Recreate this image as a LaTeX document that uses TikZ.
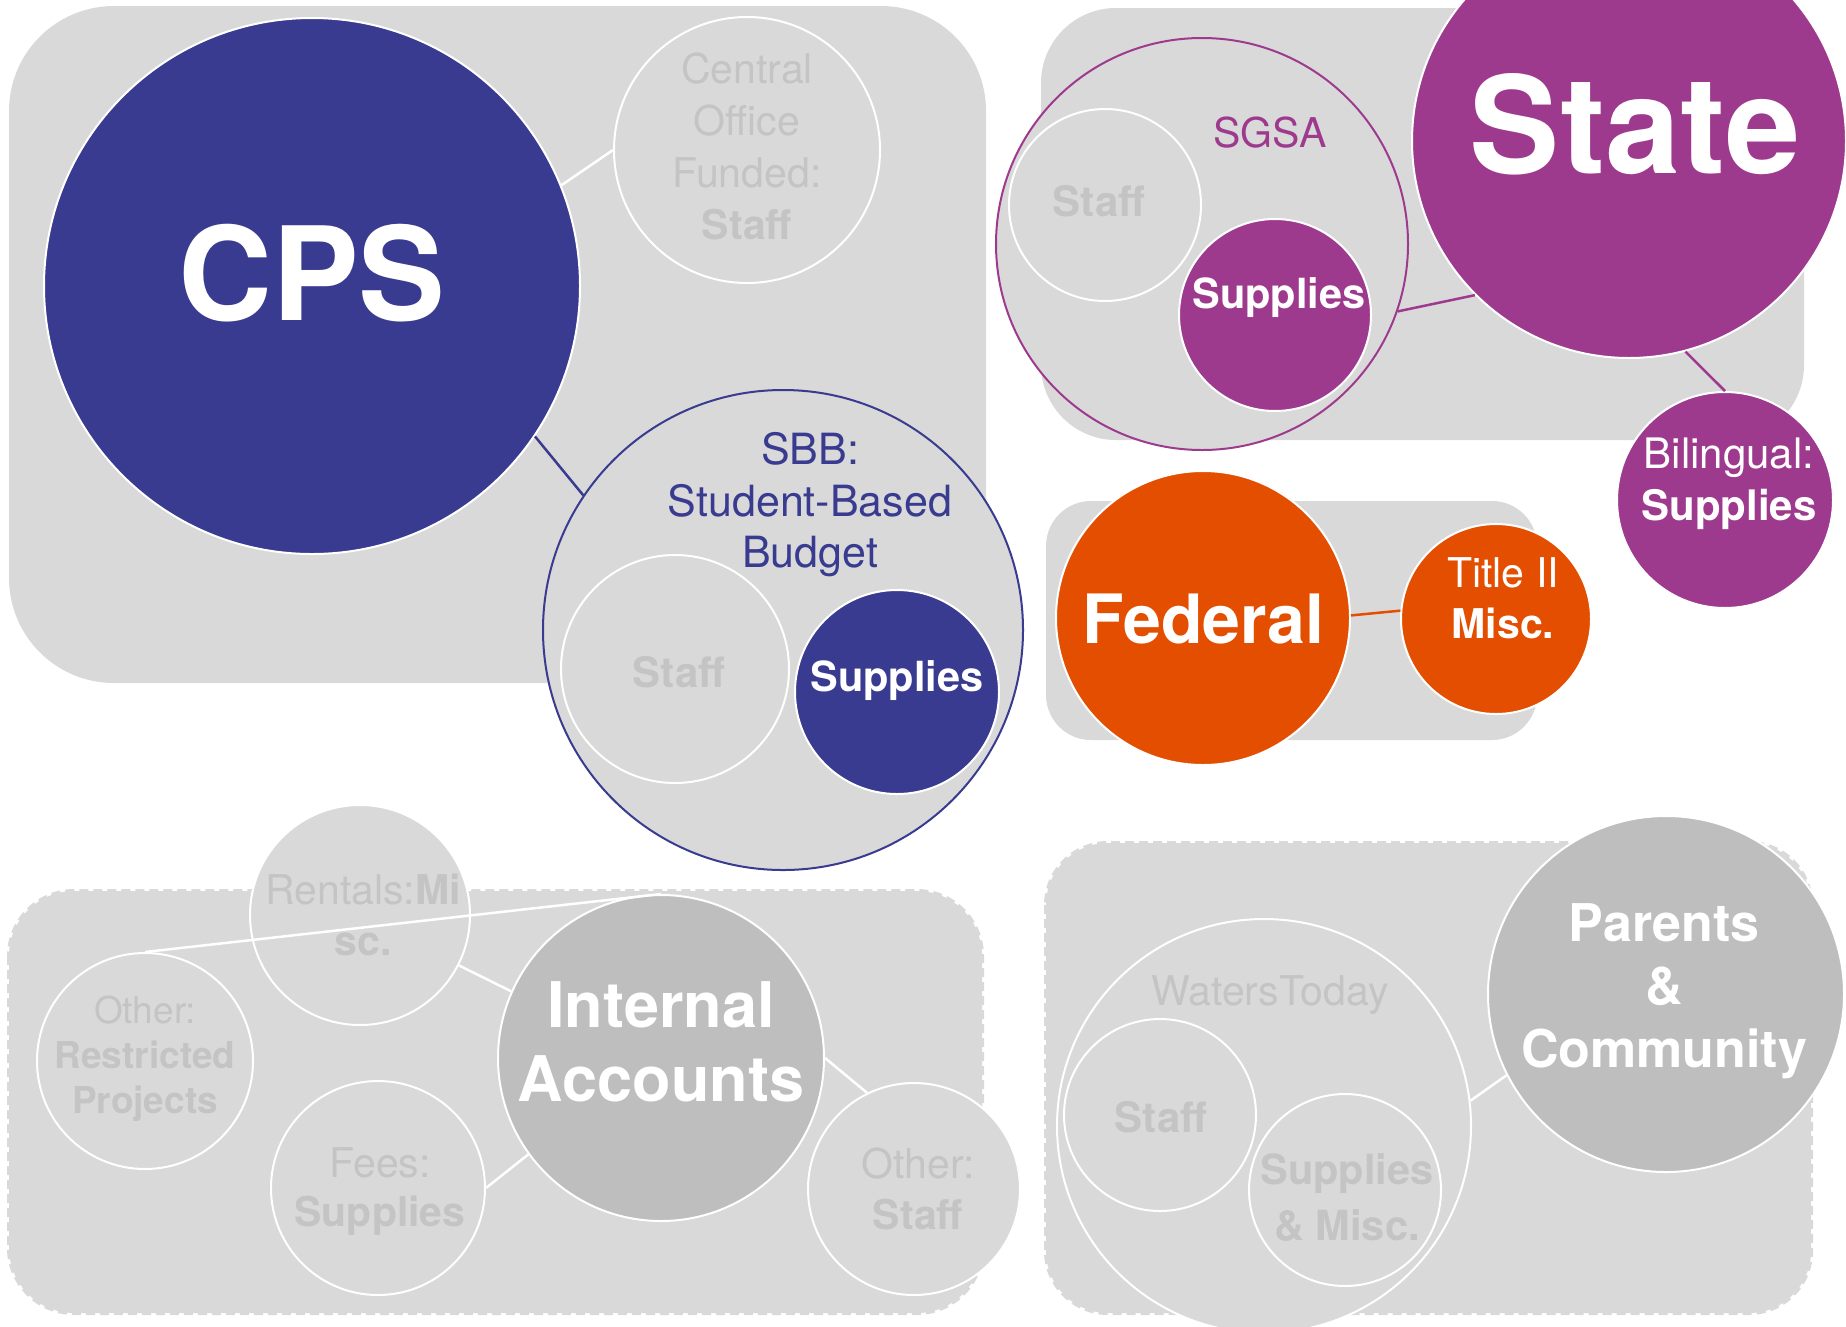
\documentclass[tikz,border=0pt]{standalone}
\usepackage{fontspec}
\setmainfont{TeX Gyre Heros}
\definecolor{cpsblue}{HTML}{383B8F}
\definecolor{statepurple}{HTML}{9E3A8E}
\definecolor{fedorange}{HTML}{E34E00}
\definecolor{boxgray}{HTML}{D9D9D9}
\definecolor{darkgray}{HTML}{BEBEBE}
\definecolor{textgray}{HTML}{C4C4C4}

\begin{document}
\begin{tikzpicture}[x=1pt, y=-1pt,
        blob/.style = {circle, draw=white, line width=2pt, inner sep=0pt,
            fill=boxgray, minimum size=#1},
        lbl/.style = {inner sep=0pt, align=center, text=textgray,
            font=\fontsize{41}{51}\selectfont},
        link/.style = {line width=2.5pt},
        panel/.style = {fill=boxgray},
        dashpanel/.style = {fill=boxgray, draw=boxgray, line width=4pt,
            dash pattern=on 9pt off 5pt}]
        \useasboundingbox (0,0) rectangle (1846,1326);
        % panels
        \path[panel, rounded corners=105pt] (9,6) rectangle (986,683);
        \path[panel, rounded corners=75pt] (1041,8) rectangle (1804,440);
        \path[panel, rounded corners=45pt] (1046,501) rectangle (1537,740);
        \path[dashpanel, rounded corners=65pt] (9,891) rectangle (982,1313);
        \path[dashpanel, rounded corners=62pt] (1046,843) rectangle (1811,1313);
        % CPS
        \node [blob=536pt, fill=cpsblue] (cps) at (312,286) {};
        \node [blob=266pt] (cof) at (747,150) {};
        \node [blob=480pt, draw=cpsblue] (sbb) at (783,630) {};
        \node [blob=228pt] (sbbstaff) at (675,669) {};
        \node [blob=204pt, fill=cpsblue] (sbbsup) at (897,692) {};
        % State
        \node [blob=412pt, draw=statepurple] (sgsa) at (1202,244) {};
        \node [blob=192pt] (sgsastaff) at (1105,205) {};
        \node [blob=192pt, fill=statepurple] (sgsasup) at (1275,315) {};
        \node [blob=434pt, fill=statepurple] (state) at (1629,141) {};
        \node [blob=216pt, fill=statepurple] (bil) at (1725,500) {};
        % Federal
        \node [blob=294pt, fill=fedorange] (fed) at (1203,618) {};
        \node [blob=190pt, fill=fedorange] (title) at (1496,619) {};
        % Internal Accounts
        \node [blob=326pt, fill=darkgray] (ia) at (661,1058) {};
        \node [blob=220pt] (rent) at (360,915) {};
        \node [blob=216pt] (restr) at (145,1061) {};
        \node [blob=214pt] (fees) at (378,1188) {};
        \node [blob=212pt] (ostaff) at (914,1189) {};
        % Parents & Community
        \node [blob=414pt] (wt) at (1264,1126) {};
        \node [blob=192pt] (wtstaff) at (1160,1115) {};
        \node [blob=192pt] (wtsup) at (1345,1190) {};
        \node [blob=356pt, fill=darkgray] (par) at (1666,994) {};
        % links
        \draw [link, white] (cps.22) -- (cof.180);
        \draw [link, cpsblue] (cps.-34) -- (sbb.146);
        \draw [link, statepurple] (sgsa.-19) -- (state.225);
        \draw [link, statepurple] (state.-75) -- (bil.90);
        \draw [link, fedorange] (fed.1) -- (title.175);
        \draw [link, white] (restr.north) -- (ia.north);
        \draw [link, white] (rent.-27) -- (ia.156);
        \draw [link, white] (fees.0) -- (ia.216);
        \draw [link, white] (ia.0) -- (ostaff.116);
        \draw [link, white] (wt.7) -- (par.207);
        % texts
        \node [lbl, anchor=base, text=white, font=\fontsize{130}{150}\bfseries] (cpstxt) at (312,320) {CPS};
        \node [lbl, font=\fontsize{41}{52}\selectfont] (coftxt) at (747,146) {Central\\Office\\Funded:\\\textbf{Staff}};
        \node [lbl, text=cpsblue, font=\fontsize{43}{51.5}\selectfont] (sbbtxt) at (810,505) {SBB:\\Student-Based\\Budget};
        \node [lbl, anchor=base, font=\fontsize{42}{50}\bfseries] (sbbstafftxt) at (679,687) {Staff};
        \node [lbl, anchor=base, text=white, font=\fontsize{41.5}{50}\bfseries] (sbbsuptxt) at (897,691) {Supplies};
        \node [lbl, anchor=base, text=statepurple] (sgsatxt) at (1270,147) {SGSA};
        \node [lbl, anchor=base, font=\fontsize{42}{50}\bfseries] (sgsastafftxt) at (1099,216) {Staff};
        \node [lbl, anchor=base, text=white, font=\fontsize{41.5}{50}\bfseries] (sgsasuptxt) at (1279,308) {Supplies};
        \node [lbl, anchor=base, text=white, font=\fontsize{135}{150}\bfseries] (statetxt) at (1635,173) {State};
        \node [lbl, text=white, font=\fontsize{42}{52}\selectfont] (biltxt) at (1729,484) {Bilingual:\\\textbf{Supplies}};
        \node [lbl, anchor=base, text=white, font=\fontsize{68}{80}\bfseries] (fedtxt) at (1203,643) {Federal};
        \node [lbl, text=white] (titletxt) at (1503,598) {Title II\\\textbf{Misc.}};
        \node [lbl, text=white, font=\fontsize{63}{74}\bfseries] (iatxt) at (661,1042) {Internal\\Accounts};
        \node [lbl] (renttxt) at (363,915) {Rentals:\textbf{Mi}\\\textbf{sc.}};
        \node [lbl, font=\fontsize{37}{45}\selectfont] (restrtxt) at (145,1059) {Other:\\\textbf{Restricted}\\\textbf{Projects}};
        \node [lbl, font=\fontsize{41}{49}\selectfont] (feestxt) at (380,1192) {Fees:\\\textbf{Supplies}};
        \node [lbl] (ostafftxt) at (918,1189) {Other:\\\textbf{Staff}};
        \node [lbl, text=white, font=\fontsize{52}{63}\bfseries] (partxt) at (1664,991) {Parents\\\&\\Community};
        \node [lbl, anchor=base] (wttxt) at (1270,1005) {WatersToday};
        \node [lbl, anchor=base, font=\fontsize{42}{50}\bfseries] (wtstafftxt) at (1161,1132) {Staff};
        \node [lbl, font=\fontsize{41.5}{56}\bfseries] (wtsuptxt) at (1347,1197) {Supplies\\\& Misc.};
\end{tikzpicture}
\end{document}
